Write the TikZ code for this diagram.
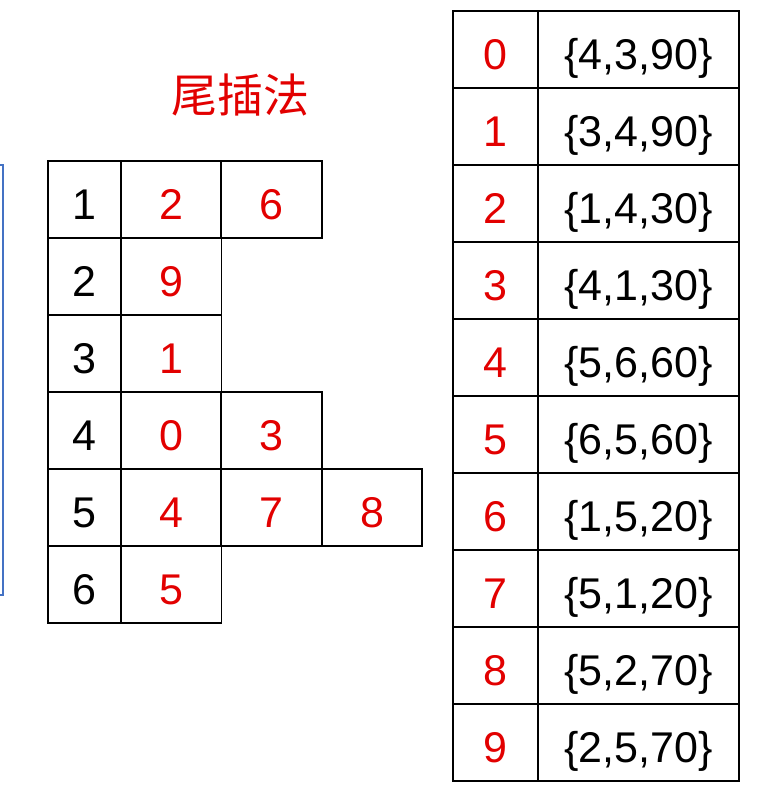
\documentclass[tikz,border=0pt]{standalone}
\usepackage{fontspec}
\setmainfont{Liberation Sans}
\newfontfamily\cjkfont{Noto Sans CJK SC}
\usetikzlibrary{matrix}
\definecolor{numred}{RGB}{226,0,0}
\definecolor{frameblue}{RGB}{68,114,196}

\begin{document}
\begin{tikzpicture}[x=1pt,y=-1pt,
    cell/.style={draw,line width=1.6pt,outer sep=0pt,inner sep=0pt,anchor=center,
      minimum height=77pt,text height=40pt,text depth=0pt,font=\fontsize{43}{50}\selectfont},
    title/.style={text=numred,font=\fontsize{46}{52}\selectfont\cjkfont}]
\useasboundingbox (0,0) rectangle (758,796);
\draw[frameblue,line width=1.5pt] (0,165) -- (3,165) -- (3,595) -- (0,595);
\node[title] (title) at (240,95) {尾插法};
\matrix (heads) [matrix of nodes, anchor=north west, inner sep=0pt, outer sep=0pt,
    row sep=-1.6pt, column sep=-1.6pt,
    nodes={cell,minimum width=100.5pt,text=numred},
    column 1/.style={nodes={minimum width=73pt,text=black}}] at (47,160)
    { 1 & 2 & 6 \\
      2 & 9 \\
      3 & 1 \\
      4 & 0 & 3 \\
      5 & 4 & 7 & 8 \\
      6 & 5 \\ };
\matrix (edges) [matrix of nodes, anchor=north west, inner sep=0pt, outer sep=0pt,
    row sep=-1.6pt, column sep=-1.6pt,
    nodes={cell,minimum width=201pt,text=black},
    column 1/.style={nodes={minimum width=85pt,text=numred}}] at (452,10)
    { 0 & \{4,3,90\} \\
      1 & \{3,4,90\} \\
      2 & \{1,4,30\} \\
      3 & \{4,1,30\} \\
      4 & \{5,6,60\} \\
      5 & \{6,5,60\} \\
      6 & \{1,5,20\} \\
      7 & \{5,1,20\} \\
      8 & \{5,2,70\} \\
      9 & \{2,5,70\} \\ };
\end{tikzpicture}
\end{document}
